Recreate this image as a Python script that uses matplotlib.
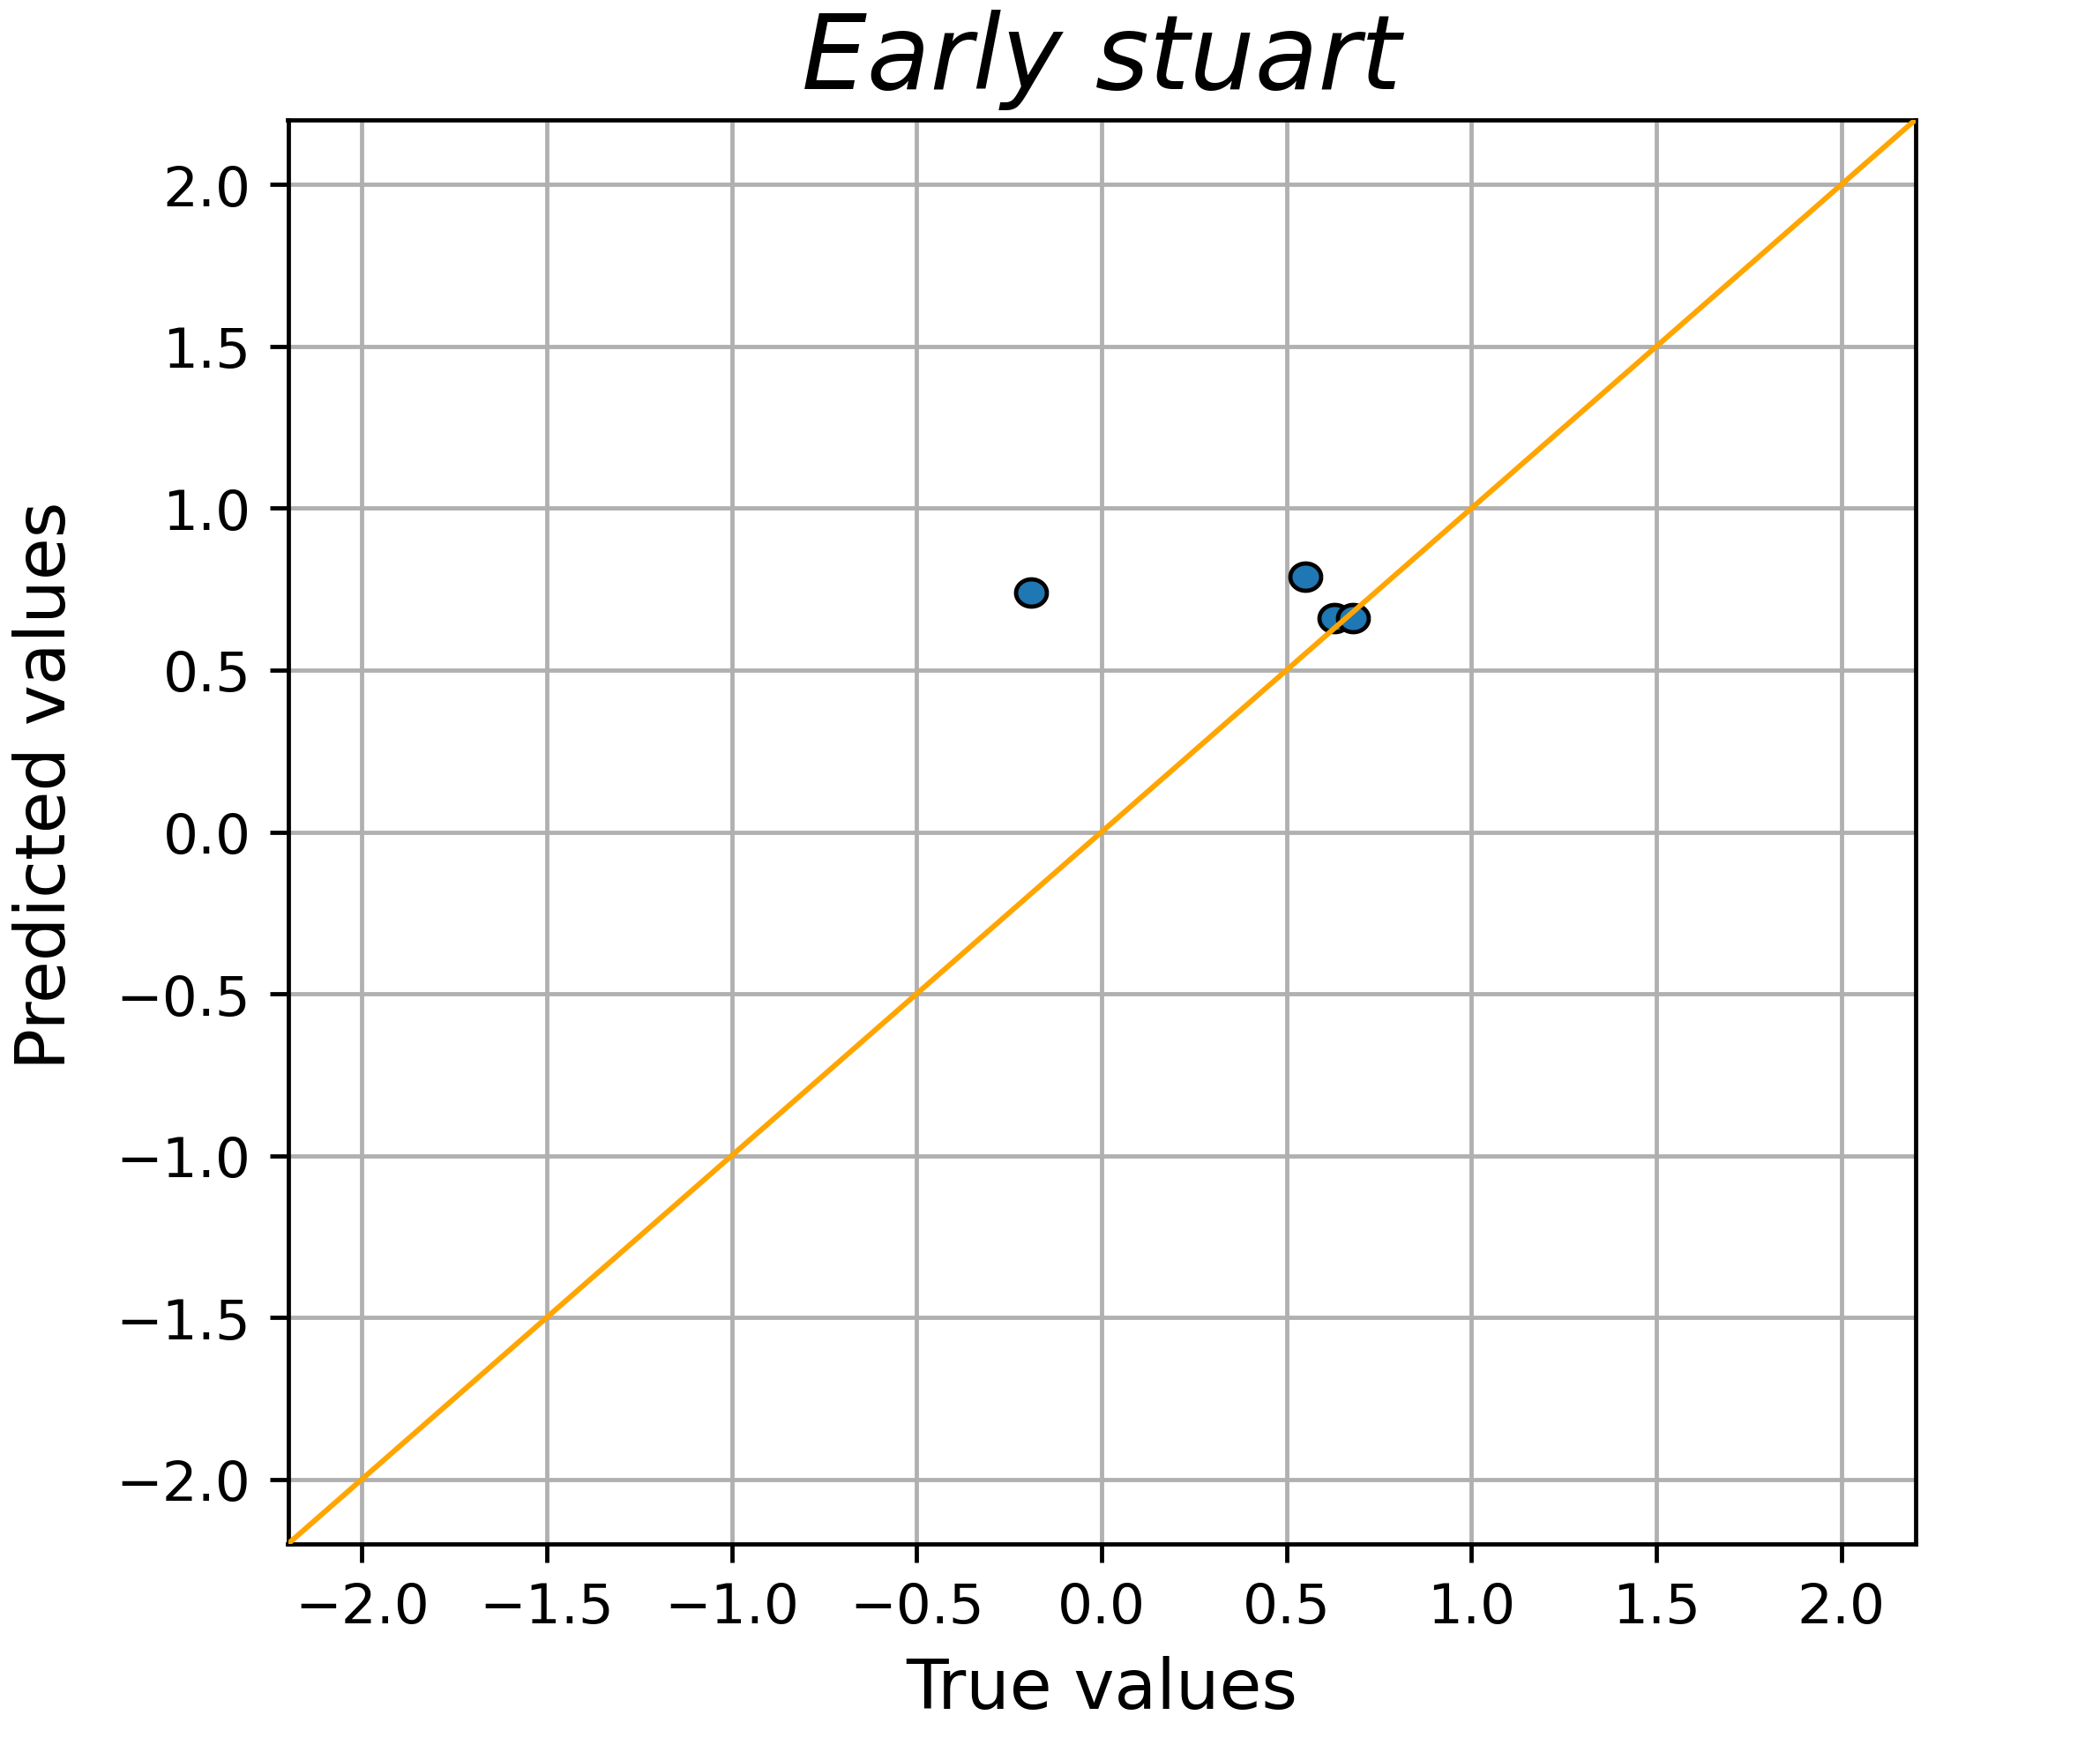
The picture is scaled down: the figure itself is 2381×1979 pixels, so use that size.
import matplotlib
matplotlib.use("Agg")
import matplotlib.pyplot as plt
import numpy as np

# valeurs (partie visible)
true_vals = [-0.19, 0.55, 0.63, 0.68]
pred_vals = [0.74, 0.79, 0.66, 0.66]
period = "Early stuart"
lims = [-2.2, 2.2]
ticks = np.arange(-2.0, 2.01, 0.5)

DPI = 432
fig = plt.figure(figsize=(2381 / DPI, 1980 / DPI), dpi=DPI)
ax = fig.add_axes([326.5 / 2381, 1 - 1752 / 1980, 1845 / 2381, 1615 / 1980])

# l'image d'origine est un peu etiree en largeur -> marqueur ovale
t = np.linspace(0, 2 * np.pi, 64)
oval = np.column_stack([1.13 * np.cos(t), np.sin(t)])

ax.scatter(true_vals, pred_vals, s=34, marker=oval, color="#1f77b4",
           edgecolor="black", linewidths=0.8, zorder=3)
# ligne identite
ax.plot(lims, lims, color="orange", linewidth=1.0, zorder=4)

ax.set_xlim(lims)
ax.set_ylim(lims)
ax.set_xticks(ticks)
ax.set_yticks(ticks)
ax.tick_params(labelsize=10.5)
ax.grid(True)
ax.set_axisbelow(True)

ax.set_title(period, fontsize=19.5, fontstyle="italic")
ax.set_xlabel("True values", fontsize=13)
ax.set_ylabel("Predicted values", fontsize=13)
ax.yaxis.set_label_coords(-0.128, 0.533)

fig.savefig("out.png", dpi=DPI)
